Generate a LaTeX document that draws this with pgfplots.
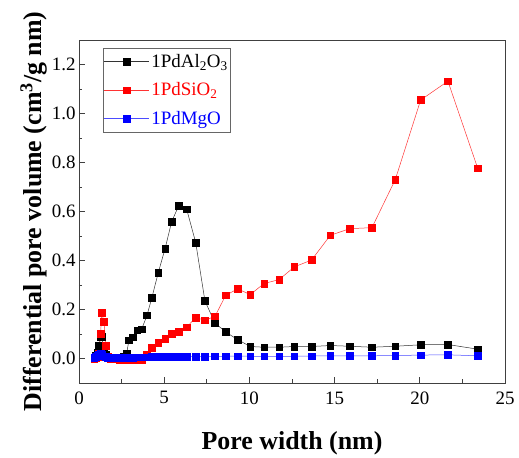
\documentclass[border=0pt]{standalone}
\usepackage{fontspec}
\setmainfont{Liberation Serif}
\usepackage{pgfplots}
\pgfplotsset{compat=1.18}
\usepackage{pgfplotstable}
\pgfplotstableread{
x y
0.9 0.005
1.0 0.012
1.1 0.025
1.17 0.053
1.27 0.087
1.33 0.09
1.47 0.03
1.58 0.015
1.7 0.008
1.85 0.005
2.0 0.004
2.2 0.004
2.4 0.005
2.6 0.008
2.8 0.022
2.93 0.074
3.15 0.087
3.42 0.115
3.68 0.12
3.99 0.176
4.28 0.249
4.65 0.35
5.05 0.448
5.44 0.559
5.85 0.623
6.32 0.609
6.85 0.473
7.39 0.235
7.98 0.145
8.61 0.108
9.31 0.077
10.05 0.049
10.86 0.046
11.74 0.046
12.64 0.049
13.65 0.049
14.75 0.053
15.9 0.05
17.19 0.046
18.56 0.05
20.05 0.056
21.65 0.057
23.4 0.038
}\alumina
\pgfplotstableread{
x y
0.9 0.0
1.0 0.003
1.1 0.008
1.17 0.02
1.27 0.1
1.33 0.187
1.47 0.149
1.58 0.053
1.7 0.01
1.85 0.0
2.0 -0.002
2.2 -0.003
2.4 -0.004
2.6 -0.004
2.8 -0.005
2.93 -0.006
3.15 -0.006
3.42 -0.005
3.68 -0.004
3.99 0.016
4.28 0.044
4.65 0.064
5.05 0.08
5.44 0.1
5.85 0.108
6.32 0.128
6.85 0.167
7.39 0.156
7.98 0.172
8.61 0.258
9.31 0.284
10.05 0.261
10.86 0.306
11.74 0.322
12.64 0.374
13.65 0.402
14.75 0.503
15.9 0.53
17.19 0.534
18.56 0.73
20.05 1.055
21.65 1.132
23.4 0.776
}\silica
\pgfplotstableread{
x y
0.9 0.003
1.0 0.008
1.1 0.012
1.17 0.016
1.27 0.02
1.33 0.018
1.47 0.01
1.58 0.006
1.7 0.004
1.85 0.003
2.0 0.003
2.2 0.003
2.4 0.003
2.6 0.003
2.8 0.004
2.93 0.004
3.15 0.004
3.42 0.005
3.68 0.005
3.99 0.005
4.28 0.006
4.65 0.006
5.05 0.007
5.44 0.007
5.85 0.008
6.32 0.008
6.85 0.008
7.39 0.008
7.98 0.009
8.61 0.009
9.31 0.01
10.05 0.009
10.86 0.009
11.74 0.009
12.64 0.009
13.65 0.01
14.75 0.011
15.9 0.011
17.19 0.011
18.56 0.012
20.05 0.014
21.65 0.015
23.4 0.011
}\magnesia
\begin{document}
\begin{tikzpicture}
\begin{axis}[
  name=ax,
  scale only axis,
  width=426bp, height=343bp,
  xmin=0, xmax=25, ymin=-0.1, ymax=1.3,
  xtick={0,5,...,25}, minor x tick num=1,
  ytick={0,0.2,...,1.2}, minor y tick num=1,
  xtick pos=left, ytick pos=left,
  tick align=inside,
  major tick length=6bp, minor tick length=3.5bp,
  axis line style={line width=0.7pt, draw=black!75},
  every tick/.style={line width=0.7pt, black!75},
  yticklabel style={/pgf/number format/.cd, fixed, fixed zerofill, precision=1},
  /pgf/number format/assume math mode=true,
  tick label style={font=\fontsize{19}{22}\selectfont},
  xticklabel style={yshift=-5bp},
  xlabel={\textbf{Pore width (nm)}},
  ylabel={\textbf{Differential pore volume (cm\textsuperscript{3}/g nm)}},
  label style={font=\fontsize{26}{29}\selectfont},
  xlabel style={yshift=-20bp},
  ylabel style={yshift=-2bp},
  legend style={at={(0.056,0.977)}, anchor=north west, draw=black!60, line width=0.6pt,
    font=\fontsize{19}{22}\selectfont, row sep=10bp, inner xsep=1bp, inner ysep=4bp},
  legend cell align=left,
  legend image code/.code={\draw[mark repeat=2,mark phase=2] plot coordinates {(0cm,0cm) (0.79cm,0cm) (1.58cm,0cm)};},
  every axis plot/.append style={line width=0.5pt, mark=square*, mark size=3.3bp},
]
\addplot[black!80, mark options={fill=black, draw=black}] table {\alumina};
\addlegendentry{\textcolor{black}{1PdAl\textsubscript{2}O\textsubscript{3}}}
\addplot[red!80, mark options={fill=red, draw=red}] table {\silica};
\addlegendentry{\textcolor{red}{1PdSiO\textsubscript{2}}}
\addplot[blue!70, mark options={fill=blue, draw=blue}] table {\magnesia};
\addlegendentry{\textcolor{blue}{1PdMgO}}
\end{axis}
\path ([shift={(-79bp,-73bp)}]ax.south west) rectangle ([shift={(14bp,40bp)}]ax.north east);
\end{tikzpicture}
\end{document}
